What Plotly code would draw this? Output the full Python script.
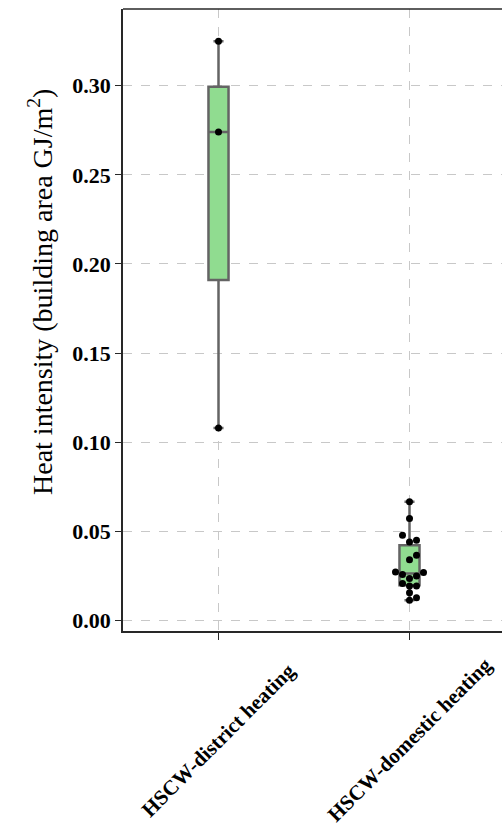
import plotly.graph_objects as go
import numpy as np

categories = ["HSCW-district heating", "HSCW-domestic heating"]
district = [0.108, 0.274, 0.325]
domestic = [0.0112, 0.0127, 0.0154, 0.0193, 0.0193, 0.0206, 0.0234, 0.0249, 0.0257,
            0.0268, 0.0271, 0.0340, 0.0365, 0.0440, 0.0449, 0.0478, 0.0571, 0.0665]
y_ticks = [0.00, 0.05, 0.10, 0.15, 0.20, 0.25, 0.30]

series = [district, domestic]

# layout geometry
W, H = 502, 826
ml, mt, mb, mr = 123, 9, 195, 0
plot_h = H - mt - mb
x_range = [-0.5, -0.5 + (W - ml - mr) / 191.0]
y_range = [-0.006, 0.3431]
px_per_x = (W - ml - mr) / (x_range[1] - x_range[0])
px_per_y = plot_h / (y_range[1] - y_range[0])


def swarm_offsets(vals, d=7.0):
    """simple beeswarm in pixel space, returns x offsets in data units"""
    order = np.argsort(vals)
    placed = []
    offs = np.zeros(len(vals))
    for i in order:
        yp = vals[i] * px_per_y
        cands = [0.0]
        for k in range(1, 10):
            cands += [k * d, -k * d]
        for c in cands:
            ok = True
            for (px, py) in placed:
                if (px - c) ** 2 + (py - yp) ** 2 < (d * 0.98) ** 2:
                    ok = False
                    break
            if ok:
                offs[i] = c
                placed.append((c, yp))
                break
    return offs / px_per_x


fig = go.Figure()
for i, vals in enumerate(series):
    v = np.array(vals)
    q1, med, q3 = np.percentile(v, [25, 50, 75])
    iqr = q3 - q1
    lo = v[v >= q1 - 1.5 * iqr].min()
    hi = v[v <= q3 + 1.5 * iqr].max()
    fig.add_trace(go.Box(
        x=[i], q1=[q1], median=[med], q3=[q3], lowerfence=[lo], upperfence=[hi],
        width=0.105,
        fillcolor="rgb(144,220,144)",
        line=dict(color="rgb(100,100,100)", width=2.5),
        boxpoints=False,
        whiskerwidth=0.5, showlegend=False, hoverinfo="skip",
    ))
for i, vals in enumerate(series):
    offs = swarm_offsets(np.array(vals))
    fig.add_trace(go.Scatter(
        x=i + offs, y=vals, mode="markers",
        marker=dict(color="black", size=7),
        showlegend=False,
    ))

font_serif = "Liberation Serif, Times New Roman, serif"

# x tick labels centred under their ticks, rotated 45 degrees
label_center_px = 740
annotations = [
    dict(x=i, y=(H - mb - label_center_px) / plot_h, xref="x", yref="paper",
         text=f"<b>{c}</b>", textangle=-45, showarrow=False,
         xanchor="center", yanchor="middle",
         font=dict(family=font_serif, size=21, color="black"))
    for i, c in enumerate(categories)
]
annotations.append(dict(
    x=(40 - ml) / (W - ml - mr), y=(H - mb - 292) / plot_h, xref="paper", yref="paper",
    text="Heat intensity (building area GJ/m<sup>2</sup>)", textangle=-90,
    showarrow=False, xanchor="center", yanchor="middle",
    font=dict(family=font_serif, size=28, color="black")))

fig.update_layout(
    width=W, height=H,
    margin=dict(l=ml, r=mr, t=mt, b=mb, pad=0),
    paper_bgcolor="white", plot_bgcolor="white",
    font=dict(family=font_serif, color="black"),
    xaxis=dict(
        range=x_range, tickmode="array", tickvals=list(range(len(categories))),
        showticklabels=False,
        showline=True, linecolor="rgb(40,40,40)", linewidth=1.5,
        ticks="outside", ticklen=7, tickcolor="rgb(40,40,40)",
        showgrid=True, gridcolor="rgb(200,200,200)", griddash="dash", gridwidth=1,
        zeroline=False,
    ),
    yaxis=dict(
        range=y_range, tickmode="array", tickvals=y_ticks,
        ticktext=[f"{v:.2f}" for v in y_ticks],
        tickfont=dict(family=font_serif, size=22, weight="bold", color="black"),
        showline=True, linecolor="rgb(40,40,40)", linewidth=1.5,
        ticks="outside", ticklen=6, tickcolor="rgb(40,40,40)",
        showgrid=True, gridcolor="rgb(200,200,200)", griddash="dash", gridwidth=1,
        zeroline=False,
    ),
    annotations=annotations,
    shapes=[dict(type="line", xref="paper", yref="paper", x0=0, x1=1, y0=1, y1=1,
                 line=dict(color="rgb(40,40,40)", width=1.5))],
)

fig.write_html("out.html")
